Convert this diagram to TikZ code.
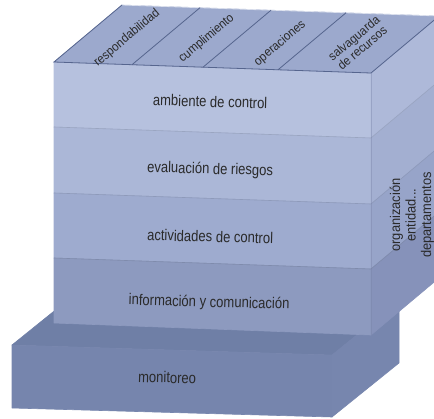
\documentclass[tikz,border=0pt]{standalone}
\usepackage{fontspec}
\setmainfont{Liberation Sans}
\newfontfamily\fnarrow[FakeStretch=0.84]{Liberation Sans}
\newfontfamily\fsmall[FakeStretch=0.92]{Liberation Sans}
\definecolor{topc}{HTML}{9CA9CD}
\definecolor{edgec}{HTML}{56658E}
\definecolor{fa}{HTML}{B6C1DE}
\definecolor{ra}{HTML}{AEB9D9}
\definecolor{fb}{HTML}{ABB7D7}
\definecolor{rb}{HTML}{A3AFD1}
\definecolor{fc}{HTML}{9EABCF}
\definecolor{rc}{HTML}{97A4C9}
\definecolor{fd}{HTML}{8D9ABF}
\definecolor{rd}{HTML}{8692BA}
\definecolor{mf}{HTML}{7685AD}
\definecolor{mt}{HTML}{6F7FA6}
\definecolor{mr}{HTML}{7786AE}
\definecolor{txt}{HTML}{2A2A2A}
\begin{document}
\begin{tikzpicture}[x=1pt,y=-1pt,
  face/.style={fill=#1,draw=#1,line width=0.6pt,line join=round},
  frontlbl/.style={text=txt,inner sep=0pt,anchor=base,rotate=-1.5,
    font=\fnarrow\fontsize{15.5}{17}\selectfont},
  toplbl/.style={text=txt,inner sep=0pt,rotate=40,align=center,
    font=\fsmall\fontsize{12.5}{13}\selectfont},
  sidelbl/.style={text=txt,inner sep=0pt,rotate=90,align=center,
    font=\fsmall\fontsize{14}{15.5}\selectfont},
  divline/.style={draw=edgec,line width=0.8pt},
  layerline/.style={line width=0.6pt}]
\useasboundingbox (0,0) rectangle (434,418);
\clip (0,0) rectangle (434,418);
% monitoreo block
\path[face=mt] (12,345) -- (332,355) -- (399,301) -- (79,291) -- cycle;
\path[face=mf] (12,345) -- (332,355) -- (332,417) -- (12,408) -- cycle;
\path[face=mr] (332,355) -- (399,301) -- (399,363) -- (332,417) -- cycle;
% layers of the main block
\foreach \L/\R/\LL/\RR/\cf/\cr in {62/73/127/138/fa/ra,127/138/193/204/fb/rb,193/204/258/269/fc/rc,258/269/323/335/fd/rd}{
  \path[face=\cf] (54,\L) -- (371,\R) -- (371,\RR) -- (54,\LL) -- cycle;
  \path[face=\cr] (371,\R) -- (439,\R-57) -- (439,\RR-57) -- (371,\RR) -- cycle;
}
% layer separation lines
\foreach \L/\R/\c in {127/138/fb,193/204/fc,258/269/fd}{
  \draw[layerline,draw=\c!90!black] (54,\L) -- (371,\R) -- (439,\R-57);
}
\draw[line width=0.5pt,draw=rd!90!black,opacity=0.4] (371,73) -- (371,335);
% top face
\path[face=topc] (54,62) -- (371,73) -- (439,16) -- (122,5) -- cycle;
\draw[white,opacity=0.6,line width=0.8pt] (122,5) -- (439,16);
\draw[divline] (122,5) -- (54,62) -- (371,73) -- (439,16);
\draw[divline] (132,64.7) -- (200,7.7);
\draw[divline] (203,67.2) -- (271,10.2);
\draw[divline] (278,69.8) -- (346,12.8);
% labels
\node[toplbl] (t1) at (127,38) {respondabilidad};
\node[toplbl] (t2) at (206.5,38.5) {cumplimiento};
\node[toplbl] (t3) at (280,43.5) {operaciones};
\node[toplbl] (t4) at (358,43) {salvaguarda\\de recursos};
\node[frontlbl] (l1) at (210,107) {ambiente de control};
\node[frontlbl] (l2) at (210,174) {evaluación de riesgos};
\node[frontlbl] (l3) at (210,242) {actividades de control};
\node[frontlbl] (l4) at (209,307) {información y comunicación};
\node[frontlbl] (l5) at (167,383) {monitoreo};
\node[sidelbl] (s1) at (412,215) {organización\\entidad...\\departamentos};
\end{tikzpicture}
\end{document}
